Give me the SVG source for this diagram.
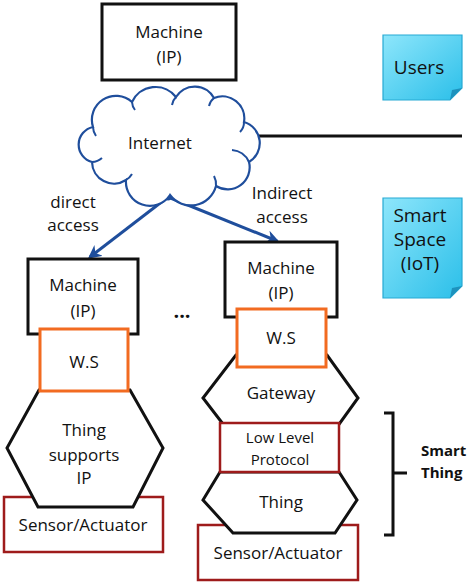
<svg xmlns="http://www.w3.org/2000/svg" width="474" height="586" viewBox="0 0 474 586">
<defs>
<linearGradient id="note" x1="0" y1="0" x2="1" y2="1">
<stop offset="0" stop-color="#8ee6fb"/>
<stop offset="1" stop-color="#2bbfe9"/>
</linearGradient>
<marker id="arr" viewBox="0 0 10 10" refX="8" refY="5" markerWidth="4.5" markerHeight="4.5" orient="auto" markerUnits="strokeWidth">
<path d="M0,0 L10,5 L0,10 L3,5 Z" fill="#1f4e9c"/>
</marker>
<style>
text{font-family:"Open Sans","Liberation Sans",sans-serif;font-size:17px;fill:#111;text-anchor:middle}
.box{fill:#fff;stroke:#111;stroke-width:3}
.ws{fill:#fff;stroke:#f26b21;stroke-width:3}
.red{fill:#fff;stroke:#9e1b1b;stroke-width:2.5}
.hex{fill:#fff;stroke:#111;stroke-width:3;stroke-linejoin:miter}
.note{fill:url(#note);stroke:#27a9d3;stroke-width:1.2}
.fold{fill:#1e92bd}
.big{font-size:19px}
.sm{font-size:15px}
.bold{font-weight:bold;font-size:15px;text-anchor:start}
</style>
</defs>

<g id="connectors">
<line x1="256" y1="136" x2="462" y2="136" stroke="#111" stroke-width="3"/>
<line x1="168" y1="197" x2="90" y2="257" stroke="#1f4e9c" stroke-width="3" marker-end="url(#arr)"/>
<line x1="168" y1="197" x2="277" y2="241" stroke="#1f4e9c" stroke-width="3" marker-end="url(#arr)"/>
<circle cx="168" cy="197" r="3.5" fill="#1f4e9c"/>
</g>

<g id="machine-top">
<rect class="box" x="102" y="4" width="134" height="76"/>
<text x="169" y="38">Machine</text>
<text x="169" y="63">(IP)</text>
</g>

<g id="internet">
<path d="M92,162 A18,18 0 0 1 93,127 A24,24 0 0 1 132,102 A26,26 0 0 1 176,97 A22,22 0 0 1 214,98 A22,22 0 0 1 244,122 A22,22 0 0 1 249,162 A22,22 0 0 1 216,186 A26,26 0 0 1 170,195 A24,24 0 0 1 126,180 A22,22 0 0 1 92,162 Z" fill="#fff" stroke="#1f4e9c" stroke-width="2.2"/>
<path d="M93,127 A16,16 0 0 0 96,136 M132,102 A14,14 0 0 0 135,110 M176,97 A14,14 0 0 0 172,105 M214,98 A14,14 0 0 0 209,106 M244,122 A14,14 0 0 1 240,132 M249,162 A20,20 0 0 0 232,150 M216,186 A18,18 0 0 0 214,176 M126,180 A16,16 0 0 0 132,174 M92,162 A16,16 0 0 0 102,158" fill="none" stroke="#1f4e9c" stroke-width="2"/>
<text x="160" y="149">Internet</text>
</g>

<g id="users">
<path class="note" d="M383,35 H462 V88 L450,100 H383 Z"/>
<path class="fold" d="M462,88 L450,100 L452,90 Z"/>
<text class="big" x="419" y="74">Users</text>
</g>

<g id="smart-space">
<path class="note" d="M383,198 H462 V286 L450,298 H383 Z"/>
<path class="fold" d="M462,286 L450,298 L452,288 Z"/>
<text class="big" x="420" y="222">Smart</text>
<text class="big" x="420" y="246">Space</text>
<text class="big" x="420" y="270">(IoT)</text>
</g>

<g id="label-direct">
<text x="73" y="208">direct</text>
<text x="73" y="231">access</text>
</g>
<g id="label-indirect">
<text x="282" y="199">Indirect</text>
<text x="282" y="223">access</text>
</g>

<g id="left-machine">
<rect class="box" x="28" y="259" width="110" height="75"/>
<text x="83" y="291">Machine</text>
<text x="83" y="317">(IP)</text>
</g>
<g id="left-sensor">
<rect class="red" x="4" y="497" width="159" height="55"/>
<text x="83" y="531">Sensor/Actuator</text>
</g>
<g id="left-thing">
<polygon class="hex" points="39,390 130,390 163,448 133,507 38,507 7,448"/>
<text x="84" y="436">Thing</text>
<text x="84" y="461">supports</text>
<text x="84" y="484">IP</text>
</g>
<g id="left-ws">
<rect class="ws" x="40" y="329" width="88" height="62"/>
<text x="84" y="368">W.S</text>
</g>

<g id="dots"><text x="182" y="318" style="font-size:20px;font-weight:bold">...</text></g>

<g id="right-machine">
<rect class="box" x="225" y="242" width="112" height="75"/>
<text x="281" y="274">Machine</text>
<text x="281" y="299">(IP)</text>
</g>
<g id="gateway">
<polygon class="hex" points="236,355 327,355 358,398 327,441 236,441 203,398"/>
<text x="281" y="399">Gateway</text>
</g>
<g id="right-ws">
<rect class="ws" x="237" y="309" width="89" height="58"/>
<text x="281" y="344">W.S</text>
</g>
<g id="right-sensor">
<rect class="red" x="198" y="525" width="160" height="55"/>
<text x="278" y="559">Sensor/Actuator</text>
</g>
<g id="thing">
<polygon class="hex" points="220,472 339,472 357,500 335,533 233,533 203,500"/>
<text x="281" y="508">Thing</text>
</g>
<g id="low-level">
<rect class="red" x="220" y="423" width="119" height="49"/>
<text class="sm" x="280" y="443">Low Level</text>
<text class="sm" x="280" y="465">Protocol</text>
</g>

<g id="smart-thing">
<path d="M384,413 H393 V535 H384 M393,473 H407" fill="none" stroke="#111" stroke-width="3"/>
<text class="bold" x="421" y="456">Smart</text>
<text class="bold" x="421" y="478">Thing</text>
</g>
</svg>
